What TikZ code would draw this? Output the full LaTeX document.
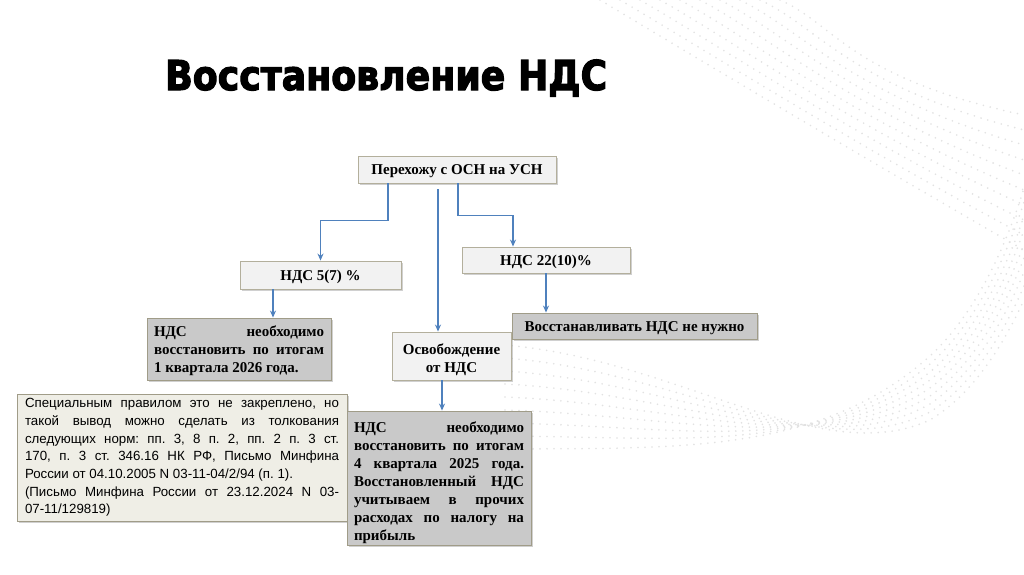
\documentclass[tikz,border=0pt]{standalone}
\usepackage{fontspec}
\setmainfont{Liberation Serif}
\newfontfamily\arialfont{Liberation Sans}
\newfontfamily\titlefont[BoldFeatures={FakeBold=3}]{DejaVu Sans}
\usetikzlibrary{shadows,arrows.meta,calc}
\frenchspacing
\definecolor{conn}{HTML}{4F81BD}
\definecolor{lightfill}{HTML}{F2F2F2}
\definecolor{grayfill}{HTML}{C9C9C9}
\definecolor{notefill}{HTML}{EFEEE6}
\definecolor{bordergray}{HTML}{B3AF9C}
\definecolor{borderdark}{HTML}{A09C88}
\definecolor{dotgray}{HTML}{E2E2E2}
\tikzset{
  boxbase/.style={draw, line width=0.9pt, inner sep=0pt, align=center,
    drop shadow={shadow xshift=2pt, shadow yshift=-2pt, opacity=0.3, fill=black!60}},
  lightbox/.style={boxbase, fill=lightfill, draw=bordergray,
    font=\frenchspacing\fontsize{15}{18}\selectfont\bfseries},
  graybox/.style={boxbase, fill=grayfill, draw=borderdark,
    font=\frenchspacing\fontsize{15}{18}\selectfont\bfseries},
  notebox/.style={boxbase, fill=notefill, draw=borderdark,
    font=\frenchspacing\arialfont\fontsize{13.3}{17.7}\selectfont},
  oneline/.style={text height=12pt, text depth=2pt},
  arr/.style={draw=conn, line width=1.2pt, -{Stealth[length=7pt,width=6pt]}},
  dotline/.style={draw=dotgray, line width=1.8pt, line cap=round, dash pattern=on 0pt off 7pt}
}
\begin{document}
\begin{tikzpicture}[x=1pt,y=-1pt]
\useasboundingbox[fill=white] (0,0) rectangle (1024,574);
% faint dotted background waves
\foreach \i in {0,...,9} {
  \path[dotline] (600+\i*20,0) .. controls (700+\i*15,60-\i*4) and (850,150-\i*8) .. (1024,250-\i*15);
}
\foreach \i in {0,...,8} {
  \path[dotline] (505,345+\i*13) .. controls (680,360+\i*11) and (820,470-\i*2) .. (930,420-\i*8)
     .. controls (980,390-\i*10) and (1010,330-\i*12) .. (1024,300-\i*14);
}
% title
\node[anchor=base west, inner sep=0pt] (title) at (165,90)
  {\resizebox{442pt}{\height}{\titlefont\bfseries\fontsize{41}{46}\selectfont Восстановление НДС}};
% boxes
\node[lightbox, oneline, minimum width=198pt, minimum height=27pt] (top) at (457,169.5) {Перехожу с ОСН на УСН};
\node[lightbox, oneline, minimum width=161pt, minimum height=28pt] (b2) at (320.5,275) {НДС 5(7) \%};
\node[lightbox, oneline, minimum width=168pt, minimum height=26pt] (b3) at (546,260) {НДС 22(10)\%};
\node[graybox, minimum width=184pt, minimum height=62pt, text width=170pt, align=justify, inner xsep=7pt,
      text height=10pt, text depth=36pt] (b4) at (239,349)
  {НДС необходимо\linebreak восстановить по итогам\linebreak 1 квартала 2026 года.};
\node[lightbox, minimum width=119pt, minimum height=48pt, text height=34pt, text depth=2pt] (b5) at (451.5,356) {Освобождение\\от НДС};
\node[graybox, oneline, minimum width=245pt, minimum height=26pt] (b6) at (634.5,326) {Восстанавливать НДС не нужно};
\node[notebox, minimum width=330pt, minimum height=127pt, text width=314pt, align=justify, inner xsep=8pt] (b7) at (182,457.5)
  {Специальным правилом это не закреплено, но\linebreak такой вывод можно сделать из толкования\linebreak следующих норм: пп. 3, 8 п. 2, пп. 2 п. 3 ст.\linebreak 170, п. 3 ст. 346.16 НК РФ, Письмо Минфина\linebreak России от 04.10.2005 N 03-11-04/2/94 (п. 1).\\(Письмо Минфина России от 23.12.2024 N 03-\linebreak 07-11/129819)};
\node[graybox, minimum width=184pt, minimum height=134pt, text width=170pt, align=justify, inner xsep=7pt,
      text height=10pt, text depth=102pt] (b8) at (439,478)
  {НДС необходимо\linebreak восстановить по итогам\linebreak 4 квартала 2025 года.\linebreak Восстановленный НДС\linebreak учитываем в прочих\linebreak расходах по налогу на\linebreak прибыль};
% connectors
\coordinate (mid) at (438,189);
\draw[arr] ([xshift=-69pt]top.south) -- ++(0,37) -| (b2.north);
\draw[arr] ([xshift=1pt]top.south) -- ++(0,32) -| ([xshift=-33pt]b3.north);
\draw[arr] (mid) -- (mid |- b5.north);
\draw[arr] ([xshift=-47.5pt]b2.south) -- ([xshift=-47.5pt]b2.south |- b4.north);
\draw[arr] (b3.south) -- (b3.south |- b6.north);
\draw[arr] ([xshift=-9.5pt]b5.south) -- ([xshift=-9.5pt]b5.south |- b8.north);
\end{tikzpicture}
\end{document}
